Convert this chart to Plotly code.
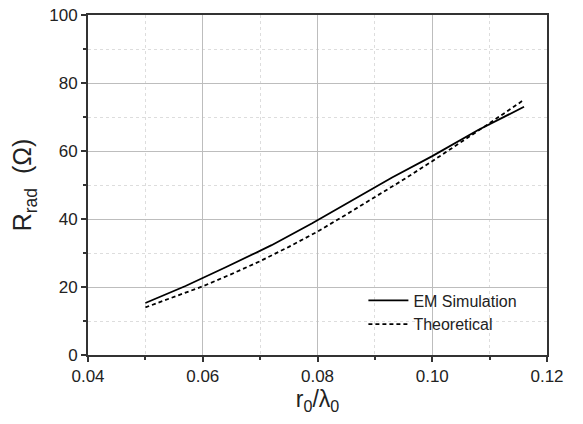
import plotly.graph_objects as go

em_x = [0.050, 0.057, 0.064, 0.072, 0.079, 0.086, 0.093, 0.100, 0.108, 0.116]
em_y = [15.3, 20.3, 25.8, 32.3, 38.7, 45.5, 52.2, 58.5, 66.2, 73.0]

th_x = [0.050, 0.055, 0.060, 0.065, 0.070, 0.075, 0.080, 0.085, 0.090,
        0.095, 0.100, 0.105, 0.110, 0.115, 0.116]
th_y = [14.0, 17.0, 20.2, 23.8, 27.6, 31.8, 36.3, 41.3, 46.4,
        51.6, 57.0, 62.5, 68.2, 73.9, 75.1]

x_ticks = [0.04, 0.06, 0.08, 0.10, 0.12]
x_labels = ["0.04", "0.06", "0.08", "0.10", "0.12"]
x_minor = [0.05, 0.07, 0.09, 0.11]
y_ticks = [0, 20, 40, 60, 80, 100]
y_minor = [10, 30, 50, 70, 90]

fig = go.Figure()
fig.add_trace(go.Scatter(x=em_x, y=em_y, mode="lines", name="EM Simulation",
                         line=dict(color="black", width=1.8)))
fig.add_trace(go.Scatter(x=th_x, y=th_y, mode="lines", name="Theoretical",
                         line=dict(color="black", width=1.8, dash="4px,3px")))

axis_common = dict(
    showline=True, linecolor="#333333", linewidth=2, mirror=True,
    ticks="outside", ticklen=5, tickwidth=1.5, tickcolor="#333333",
    showgrid=True, gridcolor="#bdbdbd", gridwidth=1.2,
    zeroline=False, automargin=False, ticklabeloverflow="allow",
    tickfont=dict(family="Liberation Sans, Arial", size=17, color="#222222"),
)

fig.update_xaxes(
    range=[0.04, 0.12], tickvals=x_ticks, ticktext=x_labels,
    minor=dict(tickvals=x_minor, ticks="outside", ticklen=3, tickcolor="#333333",
               showgrid=True, gridcolor="#dddddd", griddash="dot", gridwidth=1),
    title=dict(text="r<sub>0</sub>/λ<sub>0</sub>",
               font=dict(family="Liberation Sans, Arial", size=23, color="#222222"),
               standoff=4),
    **axis_common,
)
fig.update_yaxes(
    range=[0, 100], tickvals=y_ticks,
    minor=dict(tickvals=y_minor, ticks="outside", ticklen=3, tickcolor="#333333",
               showgrid=True, gridcolor="#dddddd", griddash="dot", gridwidth=1),
    title=dict(text="R<sub>rad</sub>  (Ω)",
               font=dict(family="Liberation Sans, Arial", size=25, color="#222222"),
               standoff=10),
    **axis_common,
)

fig.update_layout(
    width=583, height=424,
    margin=dict(l=88, r=36, t=15, b=69),
    paper_bgcolor="white", plot_bgcolor="white",
    showlegend=True,
    legend=dict(x=0.6, y=0.04, xanchor="left", yanchor="bottom",
                bgcolor="rgba(0,0,0,0)",
                font=dict(family="Liberation Sans, Arial", size=16, color="#222222"),
                tracegroupgap=0, itemwidth=40),
)

# remove the default 8px page margin so the figure fills the window exactly
fig.write_html("out.html",
               config={"displayModeBar": False},
               post_script="document.body.style.margin='0';document.body.style.overflow='hidden';")
